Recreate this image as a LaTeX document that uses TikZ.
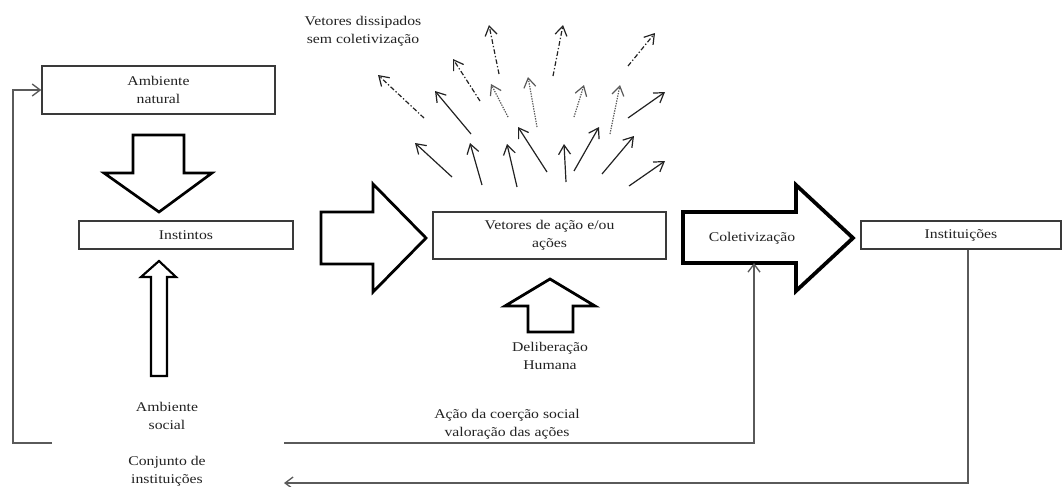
\documentclass[tikz,border=0pt]{standalone}
\usepackage{fontspec}
\setmainfont{Liberation Serif}[FakeStretch=1.18]
\usetikzlibrary{arrows.meta}
\definecolor{ink}{HTML}{222222}
\definecolor{edge}{HTML}{3A3A3A}
\definecolor{wire}{HTML}{5A5A5A}
\begin{document}
\begin{tikzpicture}[x=0.75pt,y=-0.75pt,
  every node/.style={font=\fontsize{10}{13.2}\selectfont, text=ink, align=center, inner sep=0pt},
  box/.style={draw=edge, line width=1.1pt, fill=white},
  block/.style={draw=black, line width=#1, line join=miter, fill=white},
  vec/.style={draw=ink, line width=0.9pt, -{Straight Barb[length=7pt,width=9pt]}},
  vecdd/.style={vec, dash pattern=on 3.5pt off 1.6pt on 1pt off 1.6pt},
  vecdot/.style={vec, draw=ink!75, dash pattern=on 1pt off 0.9pt},
  wire/.style={draw=wire, line width=1pt},
  wiretip/.style={wire, -{Straight Barb[length=6pt,width=9pt]}}]
\useasboundingbox (0,0) rectangle (1062,486);

% boxes
\node[box, minimum width=174.75pt, minimum height=36pt] (natural) at (158.5,90) {Ambiente\\natural};
\node[box, minimum width=160.5pt, minimum height=21pt] (inst) at (186,235) {Instintos};
\node[box, minimum width=174.75pt, minimum height=35.25pt] (vet) at (549.5,235.5) {Vetores de ação e/ou\\ações};
\node[box, minimum width=150pt, minimum height=21pt] (instit) at (961,235) {Instituições};

% block arrows
\draw[block=2pt] (133,135) -- (184,135) -- (184,173) -- (212,173) -- (159,212) -- (104,173) -- (133,173) -- cycle;
\draw[block=1.6pt] (151,376) -- (151,277) -- (141,277) -- (159,261) -- (176,277) -- (167,277) -- (167,376) -- cycle;
\draw[block=2.1pt] (321,212) -- (373,212) -- (373,184) -- (426,238) -- (373,292) -- (373,264) -- (321,264) -- cycle;
\draw[block=2.8pt] (683,212) -- (796,212) -- (796,185) -- (853,238) -- (796,291) -- (796,263) -- (683,263) -- cycle;
\draw[block=2.1pt] (528,332) -- (528,306) -- (505,306) -- (550,279) -- (595,306) -- (573,306) -- (573,332) -- cycle;

% labels
\node (colet) at (752,238) {Coletivização};
\node (delib) at (550,356) {Deliberação\\Humana};
\node (social) at (167,416) {Ambiente\\social};
\node (conj) at (167,471) {Conjunto de\\instituições};
\node (coer) at (507,424) {Ação da coerção social\\valoração das ações};
\node (dissip) at (363,31) {Vetores dissipados\\sem coletivização};

% feedback loops
\coordinate (sL) at (52,443);
\coordinate (sR) at (284,443);
\coordinate (loopL) at (13,443);
\coordinate (coletB) at (754,263);
\coordinate (conjR) at (284,483);
\draw[wiretip] (sL) -- (loopL) |- (natural.west);
\draw[wiretip] (sR) -| (coletB);
\draw[wiretip] (instit.south -| 968,0) |- (conjR);

% action vectors
\draw[vec] (452,177) -- (415,143);
\draw[vec] (482,185) -- (470,143);
\draw[vec] (517,187) -- (507,144);
\draw[vec] (547,172) -- (518,127);
\draw[vec] (566,182) -- (564,144);
\draw[vec] (574,171) -- (599,127);
\draw[vec] (602,174) -- (634,136);
\draw[vec] (629,186) -- (665,161);
\draw[vec] (628,118) -- (665,92);
\draw[vec] (471,134) -- (435,91);

% dissipated vectors
\draw[vecdd] (424,118) -- (378,75);
\draw[vecdd] (480,101) -- (453,59);
\draw[vecdd] (499,74) -- (489,25);
\draw[vecdd] (553,76) -- (563,25);
\draw[vecdd] (628,66) -- (655,33);
\draw[vecdot] (508,117) -- (491,84);
\draw[vecdot] (537,127) -- (528,77);
\draw[vecdot] (574,117) -- (584,85);
\draw[vecdot] (610,134) -- (620,85);
\end{tikzpicture}
\end{document}
